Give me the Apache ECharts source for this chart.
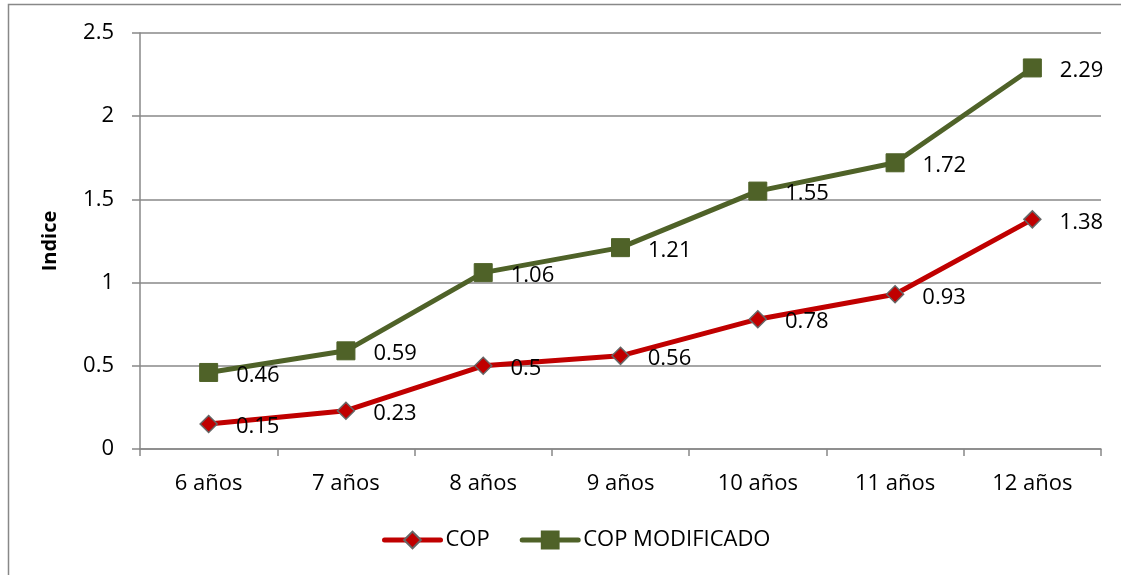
<!DOCTYPE html>
<html>
<head>
<meta charset="utf-8">
<script src="https://cdn.jsdelivr.net/npm/echarts@6/dist/echarts.min.js"></script>
<style>
html,body{margin:0;padding:0;background:#fff;}
#main{width:1121px;height:575px;}
</style>
</head>
<body>
<div id="main"></div>
<script>
// datos del grafico
var categorias = ['6 años', '7 años', '8 años', '9 años', '10 años', '11 años', '12 años'];
var cop = [0.15, 0.23, 0.5, 0.56, 0.78, 0.93, 1.38];
var copModificado = [0.46, 0.59, 1.06, 1.21, 1.55, 1.72, 2.29];
var ticksY = [0, 0.5, 1, 1.5, 2, 2.5];

var fuente = 'Open Sans';
var myChart = echarts.init(document.getElementById('main'));
var option = {
    animation: false,
    textStyle: {fontFamily: fuente},
    graphic: [{
        type: 'rect',
        shape: {x: 8.5, y: 4.5, width: 1130, height: 600},
        style: {fill: 'none', stroke: '#888', lineWidth: 1.5}
    }],
    grid: {left: 140, right: 20, top: 33, bottom: 126},
    legend: {
        bottom: 19,
        left: 377,
        itemWidth: 56,
        itemHeight: 21,
        itemGap: 30,
        lineStyle: {width: 5, cap: 'round'},
        textStyle: {fontSize: 22, color: '#000', fontFamily: fuente},
        data: ['COP', 'COP MODIFICADO']
    },
    xAxis: {
        type: 'category',
        data: categorias,
        boundaryGap: true,
        axisLine: {lineStyle: {color: '#888', width: 1.5}},
        axisTick: {show: true, length: 7, lineStyle: {color: '#888', width: 1.5}},
        axisLabel: {fontSize: 22, color: '#000', margin: 24}
    },
    yAxis: {
        type: 'value',
        min: ticksY[0],
        max: ticksY[ticksY.length - 1],
        interval: 0.5,
        name: 'Indice',
        nameLocation: 'middle',
        nameGap: 80,
        nameTextStyle: {fontSize: 20, fontWeight: 'bold', color: '#000'},
        axisLine: {show: true, lineStyle: {color: '#888', width: 1.5}},
        axisTick: {show: true, length: 8, lineStyle: {color: '#888', width: 1.5}},
        axisLabel: {fontSize: 22, color: '#000', margin: 26},
        splitLine: {lineStyle: {color: '#888', width: 1.5}}
    },
    series: [{
        name: 'COP',
        type: 'line',
        data: cop,
        symbol: 'diamond',
        symbolSize: 17,
        lineStyle: {color: '#C00000', width: 5},
        itemStyle: {color: '#C00000', borderColor: '#666', borderWidth: 1.5},
        label: {show: true, position: 'right', distance: 18, fontSize: 22, color: '#000', offset: [0, 3]},
        z: 3
    }, {
        name: 'COP MODIFICADO',
        type: 'line',
        data: copModificado,
        symbol: 'rect',
        symbolSize: 18,
        lineStyle: {color: '#4F6228', width: 5},
        itemStyle: {color: '#4F6228', borderColor: '#4F6228', borderWidth: 1},
        label: {show: true, position: 'right', distance: 18, fontSize: 22, color: '#000', offset: [0, 3]},
        z: 2
    }]
};
myChart.setOption(option);
</script>
</body>
</html>
